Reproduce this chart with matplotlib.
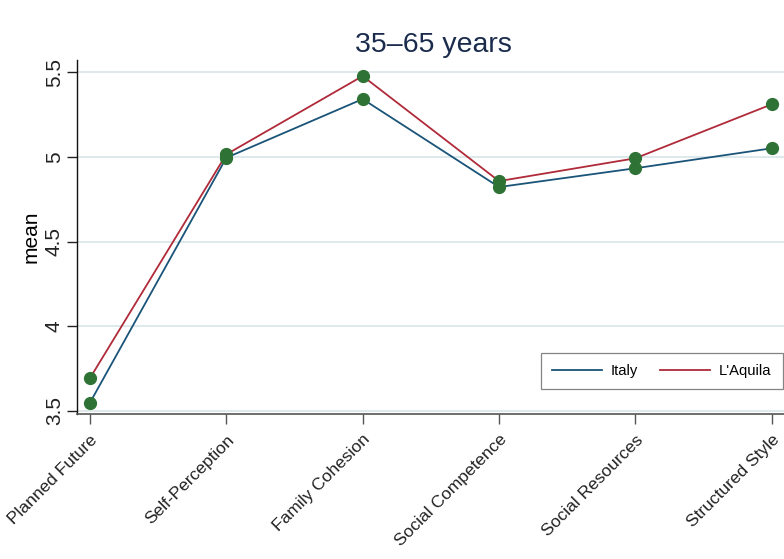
import matplotlib.pyplot as plt
from matplotlib.lines import Line2D

plt.rcParams['font.family'] = ['Liberation Sans', 'DejaVu Sans']

# Mean scores per dimension, ages 35-65
dimensions = ["Planned Future", "Self-Perception", "Family Cohesion",
              "Social Competence", "Social Resources", "Structured Style"]
italy = [3.547, 4.995, 5.342, 4.822, 4.933, 5.051]
laquila = [3.692, 5.015, 5.478, 4.857, 4.992, 5.311]
yticks = [3.5, 4, 4.5, 5, 5.5]
ytick_labels = ["3.5", "4", "4.5", "5", "5.5"]

italy_col = "#1a5478"
laquila_col = "#b02a3a"
marker_col = "#2e7335"

fig = plt.figure(figsize=(7.84, 5.59), dpi=100)
ax = fig.add_axes([0.0982, 0.2594, 0.9018, 0.6333])

x = list(range(len(dimensions)))
ax.plot(x, italy, color=italy_col, lw=1.3, zorder=3)
ax.plot(x, laquila, color=laquila_col, lw=1.3, zorder=3)
ax.plot(x, italy, ls="none", marker="o", ms=8.5, color=marker_col, zorder=4)
ax.plot(x, laquila, ls="none", marker="o", ms=8.5, color=marker_col, zorder=4)

ax.set_xlim(-0.095, 5.09)
ax.set_ylim(3.4805, 5.573)

ax.set_yticks(yticks)
ax.set_yticklabels(ytick_labels, rotation=90, va="center", fontsize=15)
ax.set_xticks(x)
ax.set_xticklabels(dimensions, rotation=45, ha="right", rotation_mode="anchor",
                   fontsize=12.5)
ax.tick_params(axis="both", length=7, width=1.0, colors="#222222")
ax.tick_params(axis="x", color="#555555", pad=6)
ax.tick_params(axis="y", pad=2.5)

ax.grid(axis="y", color="#dde9eb", lw=1.4)
ax.set_axisbelow(True)
for side in ("top", "right"):
    ax.spines[side].set_visible(False)
ax.spines["left"].set_color("#111111")
ax.spines["bottom"].set_color("#555555")
ax.spines["left"].set_linewidth(1.0)
ax.spines["bottom"].set_linewidth(1.2)

ax.set_ylabel("mean", fontsize=15, labelpad=3)

fig.text(0.553, 0.907, "35\u201365 years", ha="center", va="baseline",
         fontsize=20.5, color="#1a2b4c")

handles = [Line2D([], [], color=italy_col, lw=1.3),
           Line2D([], [], color=laquila_col, lw=1.3)]
leg = ax.legend(handles, ["Italy", "L'Aquila"], ncol=2, loc="lower right",
                bbox_to_anchor=(0.998, 0.07), frameon=True, fontsize=10.6,
                fancybox=False, handlelength=3.4, columnspacing=1.5,
                borderpad=0.75, handletextpad=0.6, borderaxespad=0)
leg.get_frame().set_edgecolor("#666666")
leg.get_frame().set_linewidth(0.9)

fig.savefig("out.png", dpi=100)
plt.close(fig)
